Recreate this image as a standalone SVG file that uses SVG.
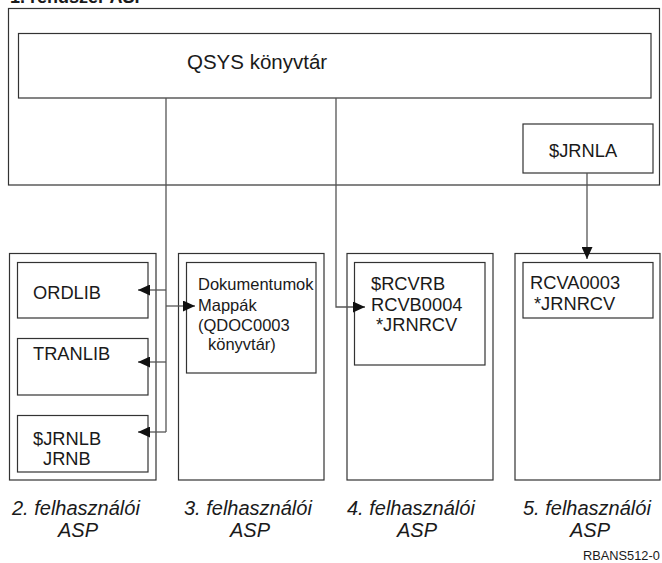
<svg xmlns="http://www.w3.org/2000/svg" width="662" height="563" viewBox="0 0 662 563">
  <style>
    .box { fill: #ffffff; stroke: #333333; stroke-width: 1.2; }
    .t { font-family: "Liberation Sans", Arial, sans-serif; fill: #1a1a1a; }
    .lbl { font-family: "Liberation Sans", Arial, sans-serif; font-style: italic; font-size: 20px; fill: #1a1a1a; }
    .con { fill: none; stroke: #555555; stroke-width: 1.3; }
  </style>
  <defs>
    <marker id="arrow" markerWidth="12" markerHeight="11" refX="12" refY="5.5" orient="auto" markerUnits="userSpaceOnUse">
      <path d="M0,0 L12,5.5 L0,11 Z" fill="#111111"/>
    </marker>
  </defs>
  <rect width="662" height="563" fill="#ffffff"/>

  <!-- system ASP title (top edge) -->
  <text class="t" x="10" y="3" font-size="18" font-weight="bold">1. rendszer ASP</text>

  <!-- system ASP -->
  <g id="system-asp">
    <rect class="box" x="8.5" y="8.5" width="651" height="176.5"/>
  </g>
  <g id="qsys">
    <rect class="box" x="18.5" y="33.5" width="632.5" height="64.5"/>
    <text class="t" x="187" y="69" font-size="20.5">QSYS könyvtár</text>
  </g>
  <g id="jrnla">
    <rect class="box" x="523" y="124" width="130" height="49"/>
    <text class="t" x="549" y="157" font-size="18.3">$JRNLA</text>
  </g>

  <!-- user ASP 2 -->
  <g id="asp2">
    <rect class="box" x="9.5" y="253.5" width="146.5" height="226.5"/>
    <text class="lbl" x="12" y="515">2. felhasználói</text>
    <text class="lbl" x="58" y="537">ASP</text>
  </g>
  <g id="ordlib">
    <rect class="box" x="17.5" y="262.5" width="130.5" height="55.5"/>
    <text class="t" x="33" y="299" font-size="18.3">ORDLIB</text>
  </g>
  <g id="tranlib">
    <rect class="box" x="17.5" y="338.5" width="130.5" height="56.5"/>
    <text class="t" x="33" y="360" font-size="18.3">TRANLIB</text>
  </g>
  <g id="jrnlb">
    <rect class="box" x="17.5" y="415.5" width="130.5" height="56.5"/>
    <text class="t" x="33" y="445" font-size="18.3">$JRNLB</text>
    <text class="t" x="43" y="465" font-size="18.3">JRNB</text>
  </g>

  <!-- user ASP 3 -->
  <g id="asp3">
    <rect class="box" x="178.5" y="253.5" width="145.5" height="226.5"/>
    <text class="lbl" x="184" y="515">3. felhasználói</text>
    <text class="lbl" x="230" y="537">ASP</text>
  </g>
  <g id="qdoc">
    <rect class="box" x="186.5" y="262.5" width="129.5" height="110.5"/>
    <text class="t" font-size="16.5">
      <tspan x="198" y="290">Dokumentumok</tspan>
      <tspan x="198" y="310.5">Mappák</tspan>
      <tspan x="198" y="331">(QDOC0003</tspan>
      <tspan x="208" y="350">könyvtár)</tspan>
    </text>
  </g>

  <!-- user ASP 4 -->
  <g id="asp4">
    <rect class="box" x="347" y="253.5" width="146" height="226.5"/>
    <text class="lbl" x="347" y="515">4. felhasználói</text>
    <text class="lbl" x="397" y="537">ASP</text>
  </g>
  <g id="rcvrb">
    <rect class="box" x="354.5" y="262.5" width="130.5" height="102.5"/>
    <text class="t" font-size="18.3">
      <tspan x="371" y="290">$RCVRB</tspan>
      <tspan x="371" y="311">RCVB0004</tspan>
      <tspan x="376" y="331">*JRNRCV</tspan>
    </text>
  </g>

  <!-- user ASP 5 -->
  <g id="asp5">
    <rect class="box" x="515" y="253.5" width="145" height="226.5"/>
    <text class="lbl" x="523" y="515">5. felhasználói</text>
    <text class="lbl" x="570" y="537">ASP</text>
  </g>
  <g id="rcva">
    <rect class="box" x="523" y="262.5" width="130" height="55.5"/>
    <text class="t" font-size="18.3">
      <tspan x="530" y="289">RCVA0003</tspan>
      <tspan x="534" y="310">*JRNRCV</tspan>
    </text>
  </g>

  <text class="t" x="583" y="560" font-size="12.8">RBANS512-0</text>

  <!-- connectors -->
  <g id="connectors">
    <path class="con" d="M166,98 V432"/>
    <path class="con" d="M166,290 H138" marker-end="url(#arrow)"/>
    <path class="con" d="M166,306 H195" marker-end="url(#arrow)"/>
    <path class="con" d="M166,362 H138" marker-end="url(#arrow)"/>
    <path class="con" d="M166,432 H138" marker-end="url(#arrow)"/>
    <path class="con" d="M336,98 V307 H365" marker-end="url(#arrow)"/>
    <path class="con" d="M587,173 V259" marker-end="url(#arrow)"/>
  </g>
</svg>
